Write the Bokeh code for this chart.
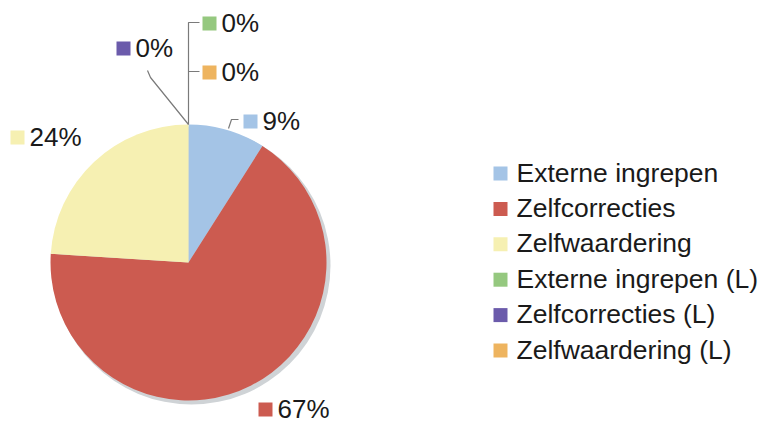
import math
from bokeh.plotting import figure
from bokeh.models import Range1d
from bokeh.core.properties import value
from bokeh.embed import file_html
from bokeh.resources import INLINE

# ---- data ----
categories = ["Externe ingrepen", "Zelfcorrecties", "Zelfwaardering",
              "Externe ingrepen (L)", "Zelfcorrecties (L)", "Zelfwaardering (L)"]
percents = [9, 67, 24, 0, 0, 0]
colors = ["#a4c4e6", "#cc5b50", "#f6f0b2", "#95c87f", "#6b5bab", "#eeb45f"]
label_texts = ["9%", "67%", "24%", "0%", "0%", "0%"]

W, H = 763, 423
OX, OY = 0, 0


def X(px):
    return px - OX


def Y(py):
    return (H + OY) - py


p = figure(width=W, height=H, output_backend="svg", toolbar_location=None,
           x_range=Range1d(0, W), y_range=Range1d(0, H), min_border=0)
p.axis.visible = False
p.grid.visible = False
p.outline_line_color = None
p.background_fill_color = "white"

cx, cy, R = X(188), Y(262), 138

# shadow
p.circle(x=[cx + 3], y=[cy - 3], radius=R + 1, fill_color="#cfd3d6", line_color=None)

# slices
total = sum(percents)
cum = 0.0
for val, col in zip(percents, colors):
    if val > 0:
        a0 = math.pi / 2 - 2 * math.pi * cum / total
        a1 = math.pi / 2 - 2 * math.pi * (cum + val) / total
        p.wedge(x=[cx], y=[cy], radius=R, start_angle=a0, end_angle=a1,
                direction="clock", fill_color=col, line_color=None)
    cum += val

# leader lines (pixel positions in page)
leaders = [
    [(228, 128), (231, 119), (238, 119)],          # 9%
    [(188, 124), (150, 77), (147, 70)],            # purple 0%
    [(188, 124), (188, 22), (199, 22)],            # green 0%
    [(188, 71), (199, 71)],                        # orange 0%
]
for pts in leaders:
    p.line([X(a) for a, b in pts], [Y(b) for a, b in pts], line_color="#7a7a7a", line_width=1.2)

# data labels: (square center x, y) in page px, index into series
label_pos = {0: (250, 121), 1: (265, 409), 2: (17, 137), 4: (123, 48), 3: (209, 23), 5: (209, 72)}
SQ = 14
FONT = value("Liberation Sans")
for i, (sx, sy) in label_pos.items():
    p.rect(x=[X(sx)], y=[Y(sy)], width=SQ, height=SQ, fill_color=colors[i], line_color=None)
    p.text(x=[X(sx) + 12], y=[Y(sy) + 1], text=[label_texts[i]], text_font=FONT,
           text_font_size="26px", text_baseline="middle", text_align="left",
           text_color="#1a1a1a")

# legend
lx, ly0, dy = 500, 173, 35.4
for k, (name, col) in enumerate(zip(categories, colors)):
    yy = ly0 + k * dy
    p.rect(x=[X(lx)], y=[Y(yy)], width=SQ, height=SQ, fill_color=col, line_color=None)
    p.text(x=[X(lx) + 16], y=[Y(yy) + 1], text=[name], text_font=FONT,
           text_font_size="26.5px", text_baseline="middle", text_align="left",
           text_color="#1a1a1a")

open("out.html", "w").write(file_html(p, INLINE))
